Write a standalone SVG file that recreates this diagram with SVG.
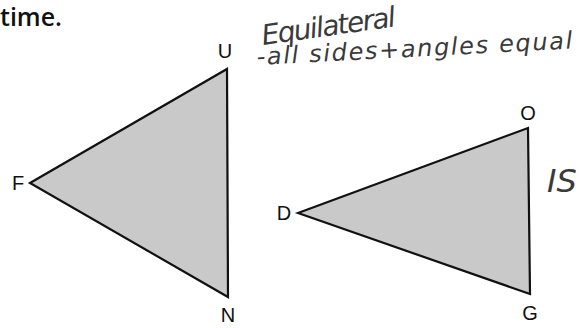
<svg xmlns="http://www.w3.org/2000/svg" width="579" height="328" viewBox="0 0 579 328">
<style>
.tri{fill:#c9c9c9;stroke:#111;stroke-width:2.2;stroke-linejoin:miter}
.lbl{font-family:"Liberation Sans",Arial,sans-serif;font-size:20px;fill:#111;text-anchor:middle;dominant-baseline:central}
.hand{font-family:"DejaVu Sans",sans-serif;font-style:italic;font-weight:300;fill:#3a3a3a}
</style>
<rect width="579" height="328" fill="#fff"/>
<text x="0" y="26" font-family="'Open Sans',sans-serif" font-weight="600" font-size="25" fill="#111">time.</text>
<g id="triangle-FUN">
<polygon class="tri" points="30,183 227,69 228,297"/>
<text class="lbl" x="225" y="51">U</text>
<text class="lbl" x="18" y="183">F</text>
<text class="lbl" x="228" y="315">N</text>
</g>
<g id="triangle-DOG">
<polygon class="tri" points="298,213 528,128 530,294"/>
<text class="lbl" x="528" y="113">O</text>
<text class="lbl" x="284" y="213">D</text>
<text class="lbl" x="530" y="313">G</text>
</g>
<g id="notes">
<text class="hand" font-size="28" transform="translate(263,45) rotate(-8)" textLength="135">Equilateral</text>
<text class="hand" font-size="24" transform="translate(257,65) rotate(-3)" textLength="316">-all sides+angles equal</text>
<text class="hand" font-size="32" x="547" y="192">IS</text>
</g>
</svg>
